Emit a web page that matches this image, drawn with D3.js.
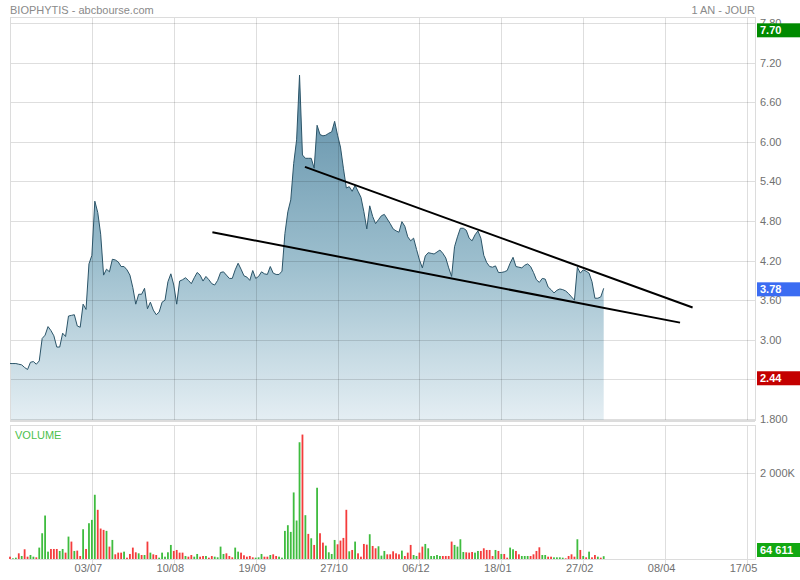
<!DOCTYPE html>
<html><head><meta charset="utf-8">
<script src="https://cdn.jsdelivr.net/npm/d3@7"></script>
<style>
body{margin:0;background:#fff}
svg{display:block;font-family:"Liberation Sans",Arial,sans-serif}
</style>
</head><body>
<svg id="chart" width="800" height="580"></svg>
<script>
// ---------- DATA ----------
const title = "BIOPHYTIS - abcbourse.com";
const period = "1 AN - JOUR";
const prices = [
2.64,2.64,2.64,2.63,2.62,2.58,2.55,2.66,2.67,2.63,
2.68,3.02,3.07,3.20,3.14,3.06,2.89,2.89,3.10,3.05,
3.36,3.37,3.38,3.21,3.19,3.54,3.46,4.15,4.28,5.10,
4.93,4.60,3.98,4.07,4.03,4.22,4.21,4.18,4.11,4.11,
4.06,3.98,3.79,3.54,3.69,3.69,3.78,3.47,3.57,3.45,
3.38,3.42,3.57,3.60,3.88,4.00,3.83,3.54,3.89,3.91,
3.94,3.90,3.85,3.94,4.02,3.98,3.89,3.96,3.91,3.85,
3.83,3.90,4.02,4.03,3.98,3.93,3.93,4.06,4.16,4.07,
3.97,3.95,3.90,4.05,3.93,3.96,4.03,4.00,3.99,4.11,
4.01,3.99,3.99,4.04,4.61,4.94,5.12,5.67,6.03,7.01,
5.80,5.75,5.75,5.75,5.60,6.25,6.11,6.09,6.10,6.13,
6.15,6.31,6.10,5.92,5.60,5.30,5.32,5.25,5.34,5.25,
5.16,4.94,4.68,5.03,4.87,4.76,4.82,4.88,4.90,4.83,
4.76,4.68,4.65,4.63,4.79,4.72,4.56,4.50,4.54,4.37,
4.21,4.09,4.27,4.32,4.31,4.30,4.33,4.36,4.31,4.24,
4.09,3.96,4.41,4.56,4.69,4.69,4.66,4.54,4.50,4.59,
4.65,4.54,4.28,4.17,4.11,4.10,4.12,4.02,4.02,4.03,
4.05,4.16,4.25,4.11,4.10,4.09,4.13,4.15,4.11,4.02,
3.91,3.87,3.93,3.92,3.80,3.76,3.71,3.75,3.77,3.76,
3.74,3.70,3.65,3.60,4.10,4.01,4.06,4.04,4.01,3.88,
3.63,3.63,3.65,3.78
];
// volumes in thousands of shares
const volumes = [
54,16,31,132,70,226,54,93,54,39,
265,599,1011,171,233,233,233,187,233,148,
521,405,187,195,70,692,233,832,910,1494,
1144,708,677,654,288,443,109,148,148,171,
31,117,265,156,132,93,93,405,148,109,
93,31,148,54,156,327,187,210,148,148,
70,54,93,54,117,54,70,70,31,70,
54,39,288,117,132,70,39,265,171,148,
86,54,70,39,31,39,117,54,54,93,
109,70,54,31,654,786,630,1548,895,2715,
2894,1019,584,482,327,1657,599,381,311,156,
117,443,342,428,490,1144,179,210,405,132,
54,350,334,576,303,249,296,78,187,109,
109,179,132,109,195,70,148,327,93,70,
148,288,350,249,70,70,93,70,70,70,
70,405,327,288,459,163,156,148,163,148,
187,187,249,210,210,70,210,187,117,117,
31,265,226,187,109,70,70,70,70,109,
187,272,93,93,54,54,39,39,39,31,
16,70,109,54,459,210,70,39,171,39,
93,54,31,65
];
// 1 = up day (green), 0 = down day (red)
const volumeUp = [
0,1,1,0,1,0,0,1,1,0,
1,1,1,1,0,0,0,1,1,0,
1,0,1,0,0,1,0,1,1,1,
0,0,0,1,0,1,0,0,0,1,
0,0,0,0,1,0,1,0,1,0,
0,1,1,1,1,1,0,0,0,0,
1,0,0,1,1,0,0,1,0,0,
1,1,1,1,0,0,0,1,1,0,
0,0,0,0,1,1,1,0,0,1,
0,0,1,1,1,1,1,1,1,1,
0,1,0,1,0,1,0,0,1,1,
1,1,0,0,0,0,1,0,1,0,
0,0,0,1,0,0,1,1,1,0,
0,0,0,0,1,0,0,0,1,1,
0,0,1,1,1,1,1,1,0,0,
0,0,1,1,1,1,0,0,0,1,
1,0,0,0,0,0,1,0,1,0,
0,1,1,0,0,1,1,1,0,0,
0,0,1,1,0,0,1,1,1,1,
0,0,0,0,1,0,1,0,1,0,
0,1,0,1
];
const xTickIndex = [28,56,84,112,140,168,196,224,252];
const xTickLabels = ["03/07","10/08","19/09","27/10","06/12","18/01","27/02","08/04","17/05"];
const priceTicks = [1.8,2.4,3.0,3.6,4.2,4.8,5.4,6.0,6.6,7.2,7.8];
const priceTickLabels = ["1.800","2.40","3.00","3.60","4.20","4.80","5.40","6.00","6.60","7.20","7.80"];
const volumeTicks = [2000];
const volumeTickLabels = ["2 000K"];
const trendUpper = [[100.85,5.62],[233.4,3.49]];
const trendLower = [[69.2,4.63],[229.1,3.26]];
const yearHigh = 7.70, yearLow = 2.44, lastPrice = 3.78, lastVolume = 64611;

// ---------- LAYOUT ----------
const L = 10, R = 755;
const pTop = 17, pBot = 420, vTop = 425, vBot = 559;
const svg = d3.select("#chart");

const x = d3.scaleLinear().domain([0, 252]).range([L, 747]);
const y = d3.scaleLinear().domain([1.8, 7.8]).range([419, 23]);
const yv = d3.scaleLinear().domain([0, 2000]).range([vBot, 473]);

// gradient
const defs = svg.append("defs");
const grad = defs.append("linearGradient").attr("id","fillg")
  .attr("gradientUnits","userSpaceOnUse").attr("x1",0).attr("x2",0)
  .attr("y1", y(7.0)).attr("y2", y(1.8));
grad.append("stop").attr("offset",0).attr("stop-color","#5e8ea7");
grad.append("stop").attr("offset",0.55).attr("stop-color","#9dbfce");
grad.append("stop").attr("offset",1).attr("stop-color","#e4eef3");

// title texts
svg.append("text").attr("x",L).attr("y",13.5).attr("font-size",11).attr("fill","#8a8a8a").text(title);
svg.append("text").attr("x",R).attr("y",13.5).attr("text-anchor","end").attr("font-size",11).attr("fill","#8a8a8a").text(period);

// price area + line
const area = d3.area().x((d,i)=>x(i)).y0(pBot).y1(d=>y(d));
const line = d3.line().x((d,i)=>x(i)).y(d=>y(d));
svg.append("path").datum(prices).attr("d",area).attr("fill","url(#fillg)");

// grid (drawn over the fill, semi-transparent)
const gridCol = "rgba(0,0,0,0.13)";
const gp = svg.append("g").attr("transform",`translate(${L},0)`)
  .call(d3.axisLeft(y).tickValues(priceTicks).tickSize(-(R-L)).tickFormat(""));
const gv = svg.append("g").attr("transform",`translate(0,${pBot})`)
  .call(d3.axisBottom(x).tickValues(xTickIndex).tickSize(-(pBot-pTop)).tickFormat(""));
const gvv = svg.append("g").attr("transform",`translate(0,${vBot+5})`)
  .call(d3.axisBottom(x).tickValues(xTickIndex).tickSize(-(vBot+5-vTop)).tickFormat(""));
const gvol = svg.append("g").attr("transform",`translate(${L},0)`)
  .call(d3.axisLeft(yv).tickValues(volumeTicks).tickSize(-(R-L)).tickFormat(""));
[gp,gv,gvv,gvol].forEach(g=>{ g.select(".domain").remove(); g.selectAll("line").attr("stroke",gridCol).attr("shape-rendering","crispEdges"); });

// frames
const frame = svg.append("g").attr("fill","none").attr("stroke","#dcdcdc").attr("shape-rendering","crispEdges");
frame.append("rect").attr("x",L).attr("y",pTop).attr("width",R-L).attr("height",pBot-pTop);
frame.append("line").attr("x1",L).attr("x2",R).attr("y1",pBot+1).attr("y2",pBot+1);
frame.append("rect").attr("x",L).attr("y",vTop).attr("width",R-L).attr("height",vBot-vTop);

svg.append("path").datum(prices).attr("d",line).attr("fill","none").attr("stroke","#2b5468").attr("stroke-width",1);

// trend lines
const tl = d3.line().x(d=>x(d[0])).y(d=>y(d[1]));
[trendUpper, trendLower].forEach(t=>{
  svg.append("path").datum(t).attr("d",tl).attr("stroke","#000").attr("stroke-width",2).attr("fill","none");
});

// volume bars
svg.append("g").selectAll("rect").data(volumes).join("rect")
  .attr("x",(d,i)=>x(i)-0.9).attr("width",1.8)
  .attr("y",d=>yv(d)).attr("height",d=>vBot-yv(d))
  .attr("fill",(d,i)=>volumeUp[i] ? "#3fbc3f" : "#f43c3c");

// axes labels
const ya = svg.append("g").attr("transform",`translate(${R},0)`)
  .call(d3.axisRight(y).tickValues(priceTicks).tickSize(0).tickPadding(5)
    .tickFormat((d,i)=>priceTickLabels[i]));
const yva = svg.append("g").attr("transform",`translate(${R},0)`)
  .call(d3.axisRight(yv).tickValues(volumeTicks).tickSize(0).tickPadding(5)
    .tickFormat((d,i)=>volumeTickLabels[i]));
const xa = svg.append("g").attr("transform",`translate(-4,${vBot+2})`)
  .call(d3.axisBottom(x).tickValues(xTickIndex).tickSize(0).tickPadding(3)
    .tickFormat((d,i)=>xTickLabels[i]));
[ya,yva,xa].forEach(g=>{
  g.select(".domain").remove();
  g.selectAll("text").attr("font-size",11).attr("fill","#707070").attr("font-family","Liberation Sans, Arial, sans-serif");
});

// VOLUME label
svg.append("text").attr("x",15).attr("y",438.5).attr("font-size",11).attr("fill","#4cbf4c").text("VOLUME");

// badges
function badge(cy, txt, col){
  const g = svg.append("g");
  g.append("rect").attr("x",757).attr("y",cy-7).attr("width",43).attr("height",14).attr("fill",col);
  g.append("text").attr("x",760).attr("y",cy+4).attr("font-size",11).attr("font-weight","bold")
    .attr("fill","#fff").text(txt);
}
badge(y(yearHigh)+0.7, yearHigh.toFixed(2), "#008a00");
badge(y(lastPrice)+1, lastPrice.toFixed(2), "#3b6cf2");
badge(y(yearLow)+1.5, yearLow.toFixed(2), "#c40000");
const vb = Math.min(yv(lastVolume/1000), vBot-9);
badge(vb, d3.format(",")(lastVolume).replace(/,/g," "), "#12a812");
</script>
</body></html>
